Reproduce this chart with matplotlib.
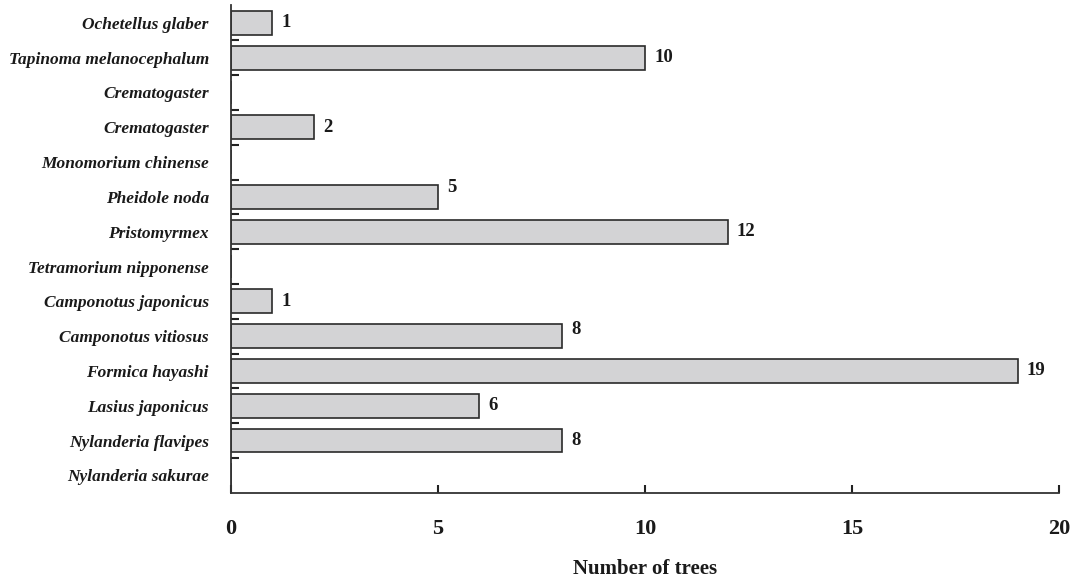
import matplotlib
matplotlib.use("Agg")
import matplotlib.pyplot as plt
import numpy as np

species = ["Ochetellus glaber", "Tapinoma melanocephalum", "Crematogaster",
           "Crematogaster", "Monomorium chinense", "Pheidole noda",
           "Pristomyrmex", "Tetramorium nipponense", "Camponotus japonicus",
           "Camponotus vitiosus", "Formica hayashi", "Lasius japonicus",
           "Nylanderia flavipes", "Nylanderia sakurae"]
trees = [1, 10, 0, 2, 0, 5, 12, 0, 1, 8, 19, 6, 8, 0]
xticks = [0, 5, 10, 15, 20]

plt.rcParams['font.family'] = ['Liberation Serif', 'DejaVu Serif']

fig = plt.figure(figsize=(10.79, 5.84), dpi=100)
ax = fig.add_axes([0.2141, 0.1563, 0.7674, 0.8343])

n = len(species)
ypos = np.arange(n)
ax.barh(ypos, trees, height=0.68, color="#d3d3d5", edgecolor="#2a2a2a",
        linewidth=1.2)
ax.set_ylim(n - 0.5, -0.5)
ax.set_xlim(0, 20)

# value labels (some sit slightly above the bar centre in the original)
raise_px = {5: 9, 9: 7}
for i, v in enumerate(trees):
    if v > 0:
        ax.annotate(str(v), (v, i), xytext=(9, raise_px.get(i, 0)),
                    textcoords="offset pixels", va="center", ha="left",
                    fontsize=13.5, fontweight="bold", color="#1a1a1a")

ax.set_yticks(ypos)
ax.set_yticklabels(species, fontsize=12.5, fontweight="bold", style="italic",
                   color="#1a1a1a")
ax.tick_params(axis="y", length=0, pad=16)
ax.set_yticks(np.arange(n - 1) + 0.5, minor=True)
ax.tick_params(axis="y", which="minor", direction="in", length=6, width=1.5,
               color="#222222")

ax.set_xticks(xticks)
ax.set_xticklabels([str(t) for t in xticks], fontsize=16, fontweight="bold",
                   color="#1a1a1a")
ax.tick_params(axis="x", direction="in", length=6, width=1.5, pad=19,
               color="#222222")
ax.set_xlabel("Number of trees", fontsize=15, fontweight="bold",
              labelpad=14, color="#1a1a1a")

for s in ["top", "right"]:
    ax.spines[s].set_visible(False)
for s in ["left", "bottom"]:
    ax.spines[s].set_color("#333333")
    ax.spines[s].set_linewidth(1.3)

fig.savefig("out.png", dpi=100)
